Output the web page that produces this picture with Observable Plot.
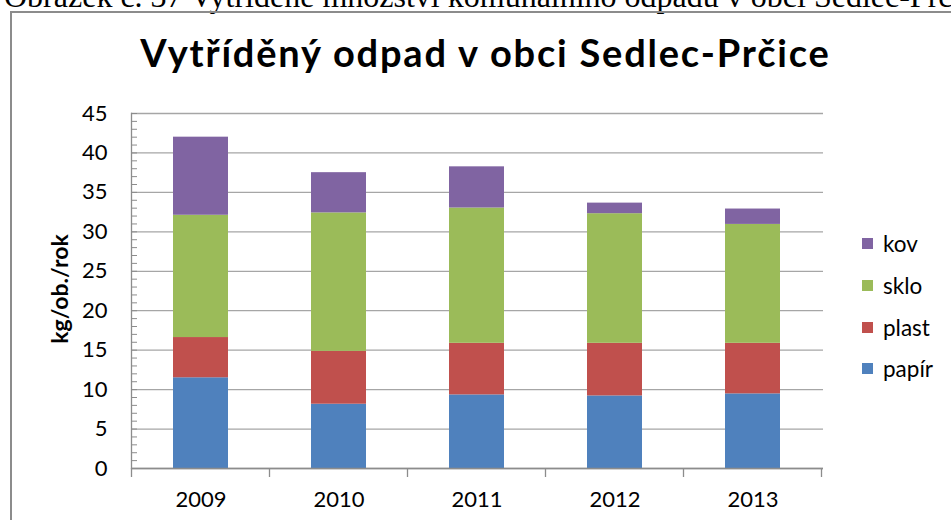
<!DOCTYPE html>
<html>
<head>
<meta charset="utf-8">
<script src="https://cdn.jsdelivr.net/npm/d3@7"></script>
<script src="https://cdn.jsdelivr.net/npm/@observablehq/plot@0.6"></script>
<style>
  body { margin: 0; background: #fff; }
  #wrap { position: relative; width: 951px; height: 520px; overflow: hidden; font-family: Lato, sans-serif; color: #000; }
  #caption { position: absolute; left: 4px; top: -20px; font-family: "Liberation Serif", serif; font-size: 32px; line-height: 32px; white-space: nowrap; }
  #frame { position: absolute; left: 10px; top: 11px; width: 1000px; height: 600px; border: 2px solid #8c8c8c; }
  #chart { position: absolute; left: 0; top: 0; }
  #title { position: absolute; left: 10px; width: 951px; top: 30px; text-align: center; font-weight: bold; font-size: 38px; line-height: 44px; letter-spacing: 1.8px; white-space: nowrap; }
  #ylabel { position: absolute; left: 59px; top: 289px; transform: translate(-50%, -50%) rotate(-90deg); font-weight: bold; font-size: 23px; white-space: nowrap; }
  #legend { position: absolute; left: 862px; top: 223px; font-size: 22.5px; }
  .item { display: flex; align-items: center; height: 41.7px; }
  .sw { width: 11px; height: 11px; margin-right: 10px; }
</style>
</head>
<body>
<div id="wrap">
  <div id="caption">Obrázek č. 37 Vytříděné množství komunálního odpadu v obci Sedlec-Prčice</div>
  <div id="frame"></div>
  <div id="chart"></div>
  <div id="title">Vytříděný odpad v obci Sedlec-Prčice</div>
  <div id="ylabel">kg/ob./rok</div>
  <div id="legend"></div>
</div>
<script>
const years = ["2009", "2010", "2011", "2012", "2013"];
const categories = ["papír", "plast", "sklo", "kov"];
const papir = [11.5, 8.15, 9.33, 9.2, 9.46];
const plast = [5.1, 6.7, 6.54, 6.67, 6.41];
const sklo  = [15.5, 17.55, 17.15, 16.43, 15.07];
const kov   = [9.9, 5.1, 5.22, 1.34, 1.95];
const colors = ["#4f81bd", "#c0504d", "#9bbb59", "#8064a2"];
const yTicks = [0, 5, 10, 15, 20, 25, 30, 35, 40, 45];
const yMinorTicks = d3.range(0, 46, 1);

const series = [papir, plast, sklo, kov];
const data = years.flatMap((yr, i) => categories.map((c, j) => ({year: yr, cat: c, value: series[j][i]})));

const chart = Plot.plot({
  width: 951,
  height: 520,
  marginLeft: 131,
  marginRight: 128,
  marginTop: 113,
  marginBottom: 52,
  style: {fontFamily: "Lato, sans-serif", fontSize: "22px", color: "#000", background: "transparent", overflow: "visible"},
  x: {domain: years, paddingInner: 0.6, paddingOuter: 0.3, label: null},
  y: {domain: [0, 45], label: null},
  color: {domain: categories, range: colors},
  marks: [
    Plot.gridY(yTicks, {stroke: "#a6a6a6", strokeOpacity: 1, strokeWidth: 1.3}),
    Plot.barY(data, {x: "year", y: "value", fill: "cat"}),
    Plot.frame({anchor: "left", stroke: "#8c8c8c", strokeWidth: 1.3}),
    Plot.ruleY([0], {stroke: "#8c8c8c", strokeWidth: 1.3}),
    Plot.axisY(yMinorTicks, {tickSize: 6, dx: 6, tickFormat: () => "", stroke: "#8c8c8c"}),
    Plot.axisY(yTicks, {tickSize: 0, tickPadding: 24, fontSize: 22, fill: "#000"}),
    Plot.axisX({tickSize: 0, tickPadding: 23, fontSize: 22, fill: "#000"})
  ]
});

// category boundary tick marks on x axis, positioned with the plot's own scales
const sx = chart.scale("x");
const sy = chart.scale("y");
const gap = (sx.step - sx.bandwidth) / 2;
const bounds = years.map(y => sx.apply(y) - gap);
bounds.push(sx.apply(years[years.length - 1]) + sx.bandwidth + gap);
const y0 = sy.apply(0);
d3.select(chart).append("g")
  .selectAll("line").data(bounds).join("line")
  .attr("x1", d => d).attr("x2", d => d)
  .attr("y1", y0).attr("y2", y0 + 9)
  .attr("stroke", "#8c8c8c").attr("stroke-width", 1.3);

document.getElementById("chart").appendChild(chart);

const legend = document.getElementById("legend");
[...categories].reverse().forEach(c => {
  const item = document.createElement("div");
  item.className = "item";
  const sw = document.createElement("div");
  sw.className = "sw";
  sw.style.background = colors[categories.indexOf(c)];
  const lab = document.createElement("span");
  lab.textContent = c;
  item.appendChild(sw);
  item.appendChild(lab);
  legend.appendChild(item);
});
</script>
</body>
</html>
